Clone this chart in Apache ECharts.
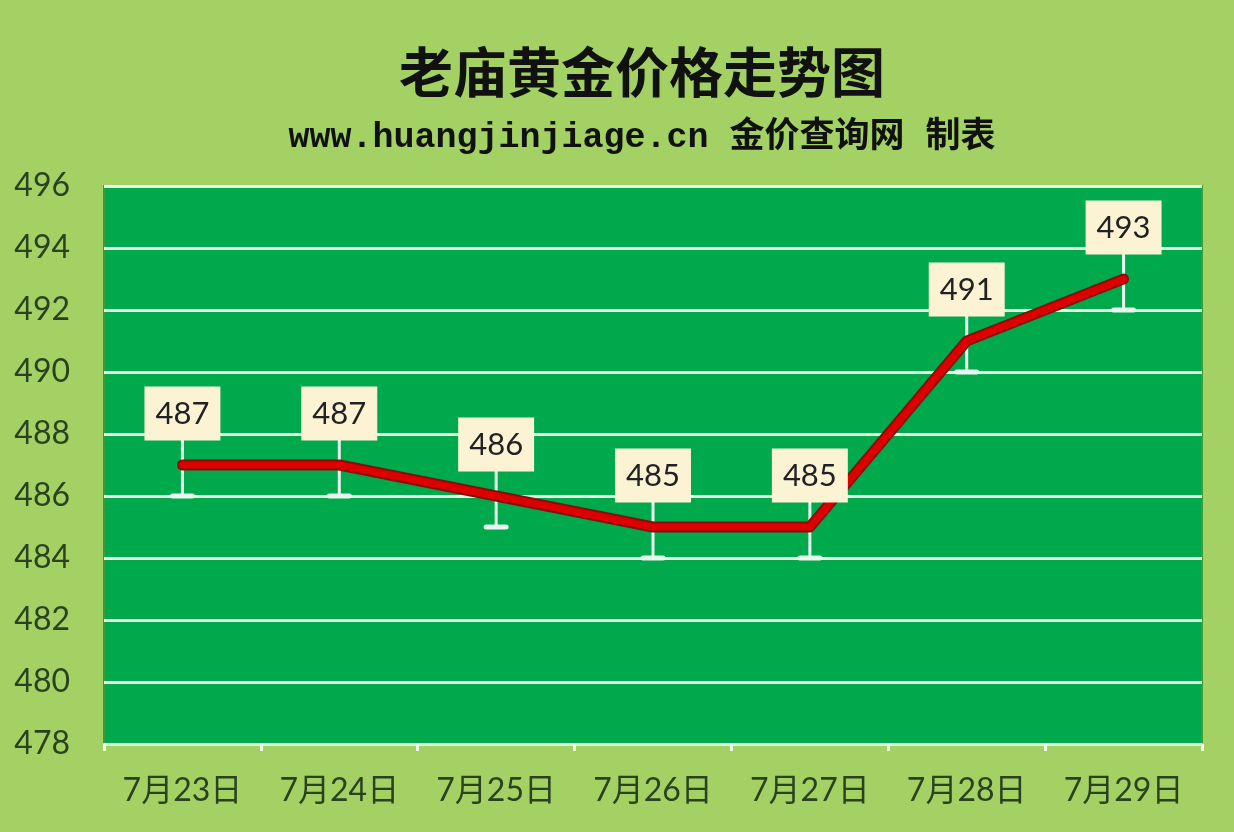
<!DOCTYPE html>
<html>
<head>
<meta charset="utf-8">
<script src="https://cdn.jsdelivr.net/npm/echarts@6/dist/echarts.min.js"></script>
<style>
html,body{margin:0;padding:0;background:#a3d163;}
#c{width:1234px;height:832px;}
</style>
</head>
<body>
<div id="c"></div>
<script>
var categories = ['7月23日','7月24日','7月25日','7月26日','7月27日','7月28日','7月29日'];
var prices = [487, 487, 486, 485, 485, 491, 493];
var errorAmount = 1;
var yMin = 478, yMax = 496, yStep = 2;
var titleText = '老庙黄金价格走势图';
var subtitleText = 'www.huangjinjiage.cn 金价查询网 制表';

var chart = echarts.init(document.getElementById('c'));
var errData = prices.map(function(v, i){ return [i, v]; });

chart.setOption({
  backgroundColor: '#a3d163',
  animation: false,
  title: [
    {text: titleText, left: 637, textAlign: 'center', top: 40,
     textStyle: {fontSize: 54, fontWeight: 'bold', color: '#111', fontFamily: '"Noto Sans CJK SC", serif'}},
    {text: subtitleText, left: 637, textAlign: 'center', top: 116,
     textStyle: {fontSize: 35, fontWeight: 'bold', color: '#111', fontFamily: '"Liberation Mono", "Noto Sans CJK SC", monospace'}}
  ],
  grid: {left: 104, right: 32, top: 186, bottom: 88, show: true, backgroundColor: '#00aa4c', borderColor: '#3f9b3a', borderWidth: 2},
  xAxis: {
    type: 'category', data: categories, boundaryGap: true,
    axisLine: {lineStyle: {color: '#e4f2dc', width: 2}},
    axisTick: {show: true, length: 7, lineStyle: {color: '#f0f8ec', width: 3}},
    axisLabel: {fontSize: 32, color: '#2a4220', margin: 31, fontFamily: 'Lato, "Noto Sans CJK SC", sans-serif'}
  },
  yAxis: {
    type: 'value', min: yMin, max: yMax, interval: yStep,
    axisLine: {show: false}, axisTick: {show: false},
    splitLine: {lineStyle: {color: '#e6f5e4', width: 3}},
    axisLabel: {fontSize: 32, color: '#2a4220', margin: 34, fontFamily: 'Lato, sans-serif'}
  },
  series: [
    {
      type: 'custom', z: 2,
      data: errData,
      renderItem: function(params, api){
        var i = api.value(0), v = api.value(1);
        var p = api.coord([i, v]);
        var lo = api.coord([i, v - errorAmount]);
        var top = p[1] - 26;
        return {type: 'group', children: [
          {type: 'line', shape: {x1: p[0], y1: top, x2: p[0], y2: lo[1]}, style: {stroke: '#e8f6ee', lineWidth: 3}},
          {type: 'line', shape: {x1: p[0]-10, y1: lo[1], x2: p[0]+10, y2: lo[1]}, style: {stroke: '#e8f6ee', lineWidth: 5, lineCap: 'round'}}
        ]};
      }
    },
    {
      type: 'line', z: 3, data: prices, symbol: 'none', silent: true,
      lineStyle: {color: '#8a0c0c', width: 11, cap: 'round', join: 'round'}
    },
    {
      type: 'line', z: 4, data: prices, symbol: 'circle', symbolSize: 1,
      itemStyle: {color: 'rgba(0,0,0,0)'},
      lineStyle: {color: '#dd0000', width: 7, cap: 'round', join: 'round'},
      label: {show: true, position: 'top', distance: 24, fontSize: 31, color: '#222',
              fontFamily: 'Lato, sans-serif', backgroundColor: '#fcf3d5',
              padding: [11, 11, 10, 11], lineHeight: 33}
    }
  ]
});
</script>
</body>
</html>
